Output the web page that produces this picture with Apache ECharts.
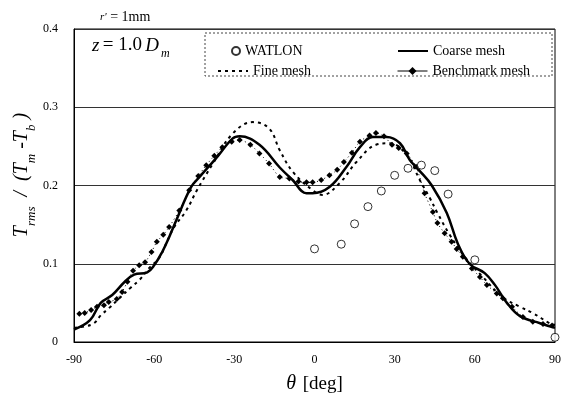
<!DOCTYPE html>
<html><head><meta charset="utf-8">
<script src="https://cdn.jsdelivr.net/npm/echarts@6/dist/echarts.min.js"></script>
<style>html,body{margin:0;padding:0;background:#fff}#c{width:561px;height:394px}</style>
</head><body><div id="c"></div>
<script>
const xTicks = [-90,-60,-30,0,30,60,90];
const yTicks = [0,0.1,0.2,0.3,0.4];

const watlonTheta = [0,10,15,20,25,30,35,40,45,50,60,90];
const watlonVal   = [0.119,0.125,0.151,0.173,0.193,0.213,0.222,0.226,0.219,0.189,0.105,0.006];

const coarseTheta = [-90,-84,-80,-75.7,-71,-67.5,-62.6,-60,-57,-54.4,-51.8,-46.2,-43,-36.8,-30.7,-28,-20.6,-13,-8.2,-3,-0.7,5.6,12,17,21.8,27,32,35.6,39,43.9,49.5,53.6,58,63.7,67.5,72,76.9,84.4,90];
const coarseVal   = [0.016,0.028,0.05,0.06,0.077,0.086,0.089,0.098,0.115,0.134,0.155,0.198,0.211,0.235,0.26,0.263,0.252,0.223,0.207,0.19,0.19,0.198,0.224,0.249,0.262,0.262,0.254,0.233,0.22,0.2,0.165,0.126,0.1,0.088,0.073,0.05,0.033,0.024,0.018];

const fineTheta = [-90,-86,-82.5,-80,-77,-73,-68.6,-65.6,-62,-58,-55,-52.5,-48,-44,-38,-30.7,-23,-17,-13,-8,-0.7,3,9.4,15.7,23,28,34.5,39.4,43,46,50.6,56.2,63,70.5,76.9,81.7,88,90];
const fineVal   = [0.018,0.02,0.024,0.034,0.043,0.056,0.07,0.079,0.094,0.108,0.13,0.147,0.168,0.194,0.228,0.266,0.281,0.273,0.245,0.217,0.194,0.188,0.203,0.23,0.252,0.254,0.239,0.207,0.185,0.165,0.137,0.109,0.083,0.057,0.045,0.037,0.024,0.022];

const benchTheta = [-88,-86,-83.6,-81.4,-78.8,-77,-74,-72,-70,-67.9,-65.6,-63.4,-61,-59,-56.6,-54.4,-50.6,-46.9,-43.5,-40.5,-37.5,-34.5,-31,-28,-24,-20.6,-17,-13,-9.4,-6,-3,-0.7,2.5,5.6,8.5,11,14,17,20.6,23,26,29,31.5,34.5,38,41.2,44.3,46,48.7,51.3,53.2,55.5,58.9,61.9,64.5,68.2,70.5,73.9,78,81.7,85.5,88.9];
const benchVal   = [0.036,0.037,0.041,0.045,0.047,0.051,0.055,0.064,0.077,0.091,0.098,0.102,0.115,0.128,0.137,0.147,0.168,0.194,0.212,0.226,0.238,0.249,0.256,0.258,0.252,0.241,0.228,0.211,0.209,0.205,0.204,0.204,0.207,0.213,0.22,0.23,0.242,0.256,0.264,0.267,0.263,0.252,0.248,0.241,0.224,0.19,0.166,0.152,0.139,0.128,0.119,0.109,0.094,0.083,0.073,0.062,0.056,0.045,0.032,0.026,0.023,0.021];

const zip = (a,b) => a.map((v,i)=>[v,b[i]]);
const serif = '"Liberation Serif","DejaVu Serif",serif';

const chart = echarts.init(document.getElementById('c'));
const legendBase = {
  orient:'horizontal', itemWidth:30, itemHeight:10,
  textStyle:{fontFamily:serif, fontSize:14, color:'#000'}
};
chart.setOption({
  animation:false,
  backgroundColor:'#fff',
  grid:{left:74, right:6, top:29, bottom:52, show:true, borderColor:'#000', borderWidth:1, containLabel:false, outerBoundsMode:'none'},
  xAxis:{
    type:'value', min:-90, max:90, interval:30,
    axisLine:{onZero:false, lineStyle:{color:'#000'}}, axisTick:{show:false},
    splitLine:{show:false},
    axisLabel:{fontFamily:serif, fontSize:12, color:'#000', margin:12},
    name:'{th|θ}  {n|[deg]}', nameLocation:'middle', nameGap:32, nameMoveOverlap:false,
    nameTextStyle:{rich:{th:{fontFamily:serif,fontStyle:'italic',fontSize:20,color:'#000'},n:{fontFamily:serif,fontSize:19,color:'#000'}}}
  },
  yAxis:{
    type:'value', min:0, max:0.4, interval:0.1,
    axisLine:{onZero:false, lineStyle:{color:'#000'}}, axisTick:{show:false},
    splitLine:{show:true, lineStyle:{color:'#333', width:1}},
    axisLabel:{fontFamily:serif, fontSize:12, color:'#000', margin:16}
  },
  legend:[
    Object.assign({}, legendBase, {left:226, top:39, data:[{name:'WATLON', icon:'circle'}], itemWidth:8, itemHeight:8}),
    Object.assign({}, legendBase, {left:392, top:39, data:[{name:'Coarse mesh', itemStyle:{opacity:0}}]}),
    Object.assign({}, legendBase, {left:212, top:59, data:[{name:'Fine mesh', itemStyle:{opacity:0}}]}),
    Object.assign({}, legendBase, {left:392, top:59, data:[{name:'Benchmark mesh', lineStyle:{type:'solid', width:1}}]})
  ],
  graphic:[
    {type:'rect', shape:{x:205, y:33, width:347, height:43}, style:{fill:'none', stroke:'#444', lineWidth:1, lineDash:[2,2]}, z:1},
    {type:'text', x:25, y:175, rotation:Math.PI/2, style:{
      text:'{m|T}{s|rms}{m|  /  (T}{s|m}{m| -T}{s|b}{m| )}', align:'center', verticalAlign:'middle',
      rich:{
        m:{fontFamily:serif,fontStyle:'italic',fontSize:20,color:'#000', verticalAlign:'top', padding:[0,0,6,0]},
        s:{fontFamily:serif,fontStyle:'italic',fontSize:13,color:'#000', verticalAlign:'bottom'}
      }}},
    {type:'text', left:92, top:36, style:{text:'{i|z} {n|= 1.0} {i|D}{s|m}', rich:{
      i:{fontFamily:serif,fontStyle:'italic',fontSize:19,color:'#000', verticalAlign:'top', padding:[0,0,5,0]},
      n:{fontFamily:serif,fontSize:19,color:'#000', verticalAlign:'top', padding:[0,0,5,0]},
      s:{fontFamily:serif,fontStyle:'italic',fontSize:12,color:'#000',verticalAlign:'bottom', padding:[0,0,0,2]}
    }}},
    {type:'text', left:100, top:10, style:{text:'{i|r\'}{n| = 1mm}', rich:{
      i:{fontFamily:serif,fontStyle:'italic',fontSize:11,color:'#000'},
      n:{fontFamily:serif,fontSize:14,color:'#000'}
    }}}
  ],
  series:[
    {name:'WATLON', type:'scatter', data:zip(watlonTheta, watlonVal), symbol:'circle', symbolSize:8,
      itemStyle:{color:'#fff', borderColor:'#000', borderWidth:1}, z:5},
    {name:'Coarse mesh', type:'line', data:zip(coarseTheta, coarseVal), smooth:0.4, showSymbol:false, symbol:'none',
      lineStyle:{color:'#000', width:2.5}, itemStyle:{color:'#000'}},
    {name:'Fine mesh', type:'line', data:zip(fineTheta, fineVal), smooth:0.4, showSymbol:false, symbol:'none',
      lineStyle:{color:'#000', width:2, type:[3,4]}, itemStyle:{color:'#000'}},
    {name:'Benchmark mesh', type:'line', data:zip(benchTheta, benchVal), smooth:0.3, symbol:'diamond', symbolSize:6, showSymbol:true,
      lineStyle:{color:'#000', width:1, type:[1,3]}, itemStyle:{color:'#000'}}
  ]
});
</script></body></html>
